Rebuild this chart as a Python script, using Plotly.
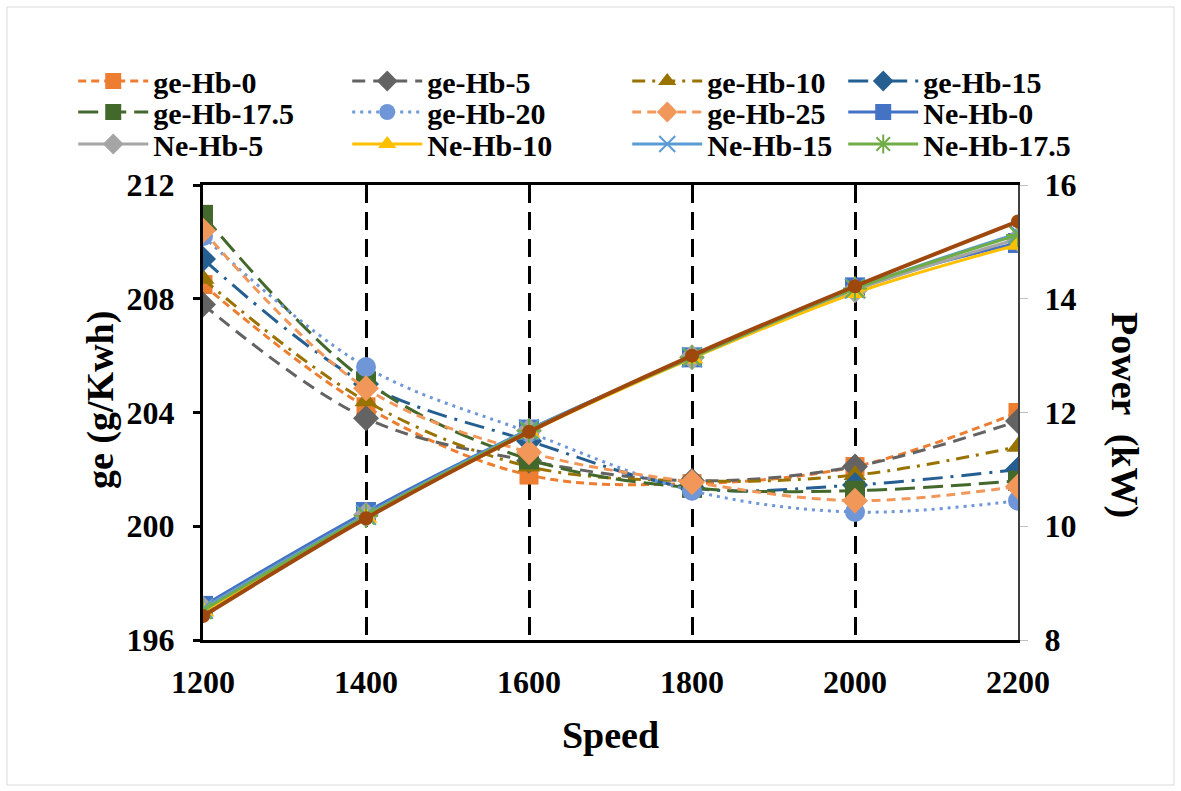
import plotly.graph_objects as go

speed = [1200, 1400, 1600, 1800, 2000, 2200]

ge_hb0 = [208.5, 204.2, 201.8, 201.5, 202.1, 204.0]
ge_hb5 = [207.8, 203.8, 202.3, 201.6, 202.1, 203.7]
ge_hb10 = [208.7, 204.4, 202.1, 201.6, 201.8, 202.8]
ge_hb15 = [209.4, 205.0, 203.0, 201.35, 201.45, 202.0]
ge_hb17_5 = [210.95, 205.1, 202.35, 201.35, 201.25, 201.6]
ge_hb20 = [210.2, 205.6, 203.3, 201.25, 200.5, 200.9]
ge_hb25 = [210.4, 204.85, 202.6, 201.55, 200.9, 201.4]

ne_hb0 = [8.6, 10.25, 11.7, 12.97, 14.2, 14.98]
ne_hb5 = [8.55, 10.2, 11.68, 12.97, 14.15, 15.05]
ne_hb10 = [8.5, 10.15, 11.65, 12.95, 14.1, 14.95]
ne_hb15 = [8.55, 10.2, 11.7, 12.97, 14.18, 15.15]
ne_hb17_5 = [8.52, 10.18, 11.68, 12.97, 14.18, 15.12]
ne_hb20 = [8.42, 10.14, 11.66, 13.0, 14.22, 15.36]

FONT = "Liberation Serif"

# (name, values, axis, color, dash, symbol, size, width)
series = [
    ("ge-Hb-0", ge_hb0, "y", "#ED7D31", "8px,5px", "square", 19, 3),
    ("ge-Hb-5", ge_hb5, "y", "#636363", "13px,8px", "diamond", 20, 3),
    ("ge-Hb-10", ge_hb10, "y", "#997300", "13px,7px,3px,7px", "triangle-up", 20, 3),
    ("ge-Hb-15", ge_hb15, "y", "#255E91", "20px,8px,3px,8px", "diamond", 20, 3),
    ("ge-Hb-17.5", ge_hb17_5, "y", "#43682B", "20px,8px", "square", 20, 3),
    ("ge-Hb-20", ge_hb20, "y", "#6F97D8", "3px,5px", "circle", 20, 3),
    ("ge-Hb-25", ge_hb25, "y", "#F1975A", "9px,6px", "diamond", 20, 3),
    ("Ne-Hb-0", ne_hb0, "y2", "#4472C4", "solid", "square", 20, 3),
    ("Ne-Hb-5", ne_hb5, "y2", "#A5A5A5", "solid", "diamond", 20, 3),
    ("Ne-Hb-10", ne_hb10, "y2", "#FFC000", "solid", "triangle-up", 20, 3),
    ("Ne-Hb-15", ne_hb15, "y2", "#5B9BD5", "solid", "x-thin", 20, 3),
    ("Ne-Hb-17.5", ne_hb17_5, "y2", "#70AD47", "solid", "asterisk", 20, 3),
]

# legend grid placement (column, row)
legend_pos = [(0, 0), (1, 0), (2, 0), (3, 0),
              (0, 1), (1, 1), (2, 1), (3, 1),
              (0, 2), (1, 2), (2, 2), (3, 2)]
col_px = [83, 357, 637, 853]
row_px = [81, 112, 144]

L, R, T, B = 203, 163, 185, 151
W, H = 1181, 791
PW, PH = W - L - R, H - T - B

fig = go.Figure()
layout_legends = {}
for i, (name, vals, ax, color, dash, sym, size, width) in enumerate(series):
    lname = "legend" if i == 0 else f"legend{i+1}"
    thin = sym in ("x-thin", "asterisk")
    marker = dict(symbol=sym, size=size, color=color)
    if thin:
        marker["line"] = dict(color=color, width=2)
    else:
        marker["line"] = dict(width=0)
    fig.add_trace(go.Scatter(
        x=speed, y=vals, name=name, yaxis=ax, mode="lines+markers",
        line=dict(color=color, width=width, dash=dash, shape="spline", smoothing=1),
        marker=marker, legend=lname,
    ))
    c, r = legend_pos[i]
    layout_legends[lname] = dict(
        x=(col_px[c] - L) / PW - 0.012, xanchor="left",
        y=(H - B - row_px[r]) / PH, yanchor="middle",
        bgcolor="rgba(0,0,0,0)", itemwidth=70,
        font=dict(family=FONT, size=30, color="black", weight="bold"),
        orientation="v", tracegroupgap=0,
    )

fig.add_trace(go.Scatter(
    x=speed, y=ne_hb20, name="Ne-Hb-20", yaxis="y2", mode="lines+markers",
    line=dict(color="#9E480E", width=4, shape="spline"),
    marker=dict(symbol="circle", size=14, color="#9E480E"),
    showlegend=False,
))

fig.update_layout(
    width=W, height=H,
    margin=dict(l=L, r=R, t=T, b=B),
    paper_bgcolor="white", plot_bgcolor="white",
    font=dict(family=FONT, size=32, color="black", weight="bold"),
    xaxis=dict(
        range=[1200, 2200], tickvals=speed, ticktext=[str(s) for s in speed],
        showline=True, linecolor="black", linewidth=3, mirror=True,
        showgrid=True, gridcolor="black", gridwidth=3, griddash="18px,9px",
        ticks="", zeroline=False, ticklabelstandoff=12,
        tickfont=dict(family=FONT, size=32, weight="bold"),
        title=dict(text="Speed", font=dict(family=FONT, size=38, weight="bold"), standoff=22),
    ),
    yaxis=dict(
        range=[196, 212], dtick=4, tick0=196,
        showline=True, linecolor="black", linewidth=3,
        ticks="outside", ticklen=7, tickwidth=3, tickcolor="black",
        showgrid=False, zeroline=False, ticklabelstandoff=12,
        tickfont=dict(family=FONT, size=32, weight="bold"),
    ),
    yaxis2=dict(
        range=[8, 16], dtick=2, tick0=8, overlaying="y", side="right",
        showline=True, linecolor="#404040", linewidth=2,
        ticks="outside", ticklen=8, tickwidth=1, tickcolor="#BFBFBF",
        showgrid=False, zeroline=False, ticklabelstandoff=10,
        tickfont=dict(family=FONT, size=32, weight="bold"),
    ),
    showlegend=True,
    **layout_legends,
)

fig.add_annotation(
    text="ge (g/Kwh)", textangle=-90, showarrow=False,
    xref="paper", yref="paper", x=(100 - L) / PW, y=(H - B - 400) / PH,
    xanchor="center", yanchor="middle",
    font=dict(family=FONT, size=38, color="black", weight="bold"),
)

fig.add_annotation(
    text="Power  (kW)", textangle=90, showarrow=False,
    xref="paper", yref="paper", x=(1125 - L) / PW, y=(H - B - 415) / PH,
    xanchor="center", yanchor="middle",
    font=dict(family=FONT, size=38, color="black", weight="bold"),
)

fig.add_shape(
    type="rect", xref="paper", yref="paper",
    x0=(7 - L) / PW, x1=(1174 - L) / PW,
    y0=(H - B - 785) / PH, y1=(H - B - 7) / PH,
    line=dict(color="#D9D9D9", width=1), fillcolor="rgba(0,0,0,0)", layer="below",
)

fig.write_html("out.html")
